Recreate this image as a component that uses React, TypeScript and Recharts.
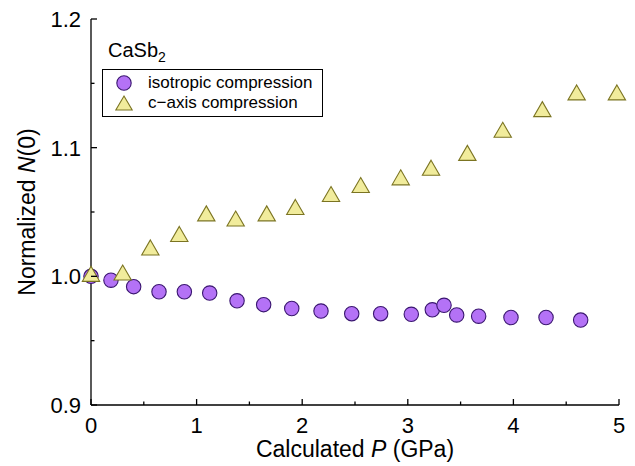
import React from 'react';
import { ScatterChart, Scatter, XAxis, YAxis, Legend } from 'recharts';

// pressure (GPa) and normalized DOS at the Fermi level
const isoP = [0, 0.189, 0.404, 0.644, 0.884, 1.124, 1.383, 1.635, 1.901, 2.178, 2.469, 2.743, 3.033, 3.232, 3.343, 3.463, 3.671, 3.977, 4.309, 4.637];
const isoN = [1.0, 0.997, 0.992, 0.988, 0.988, 0.987, 0.981, 0.978, 0.975, 0.973, 0.971, 0.971, 0.9705, 0.974, 0.9775, 0.97, 0.969, 0.968, 0.968, 0.966];

const cAxisP = [0, 0.3, 0.562, 0.836, 1.092, 1.37, 1.664, 1.935, 2.273, 2.554, 2.933, 3.22, 3.564, 3.899, 4.274, 4.599, 4.98];
const cAxisN = [1.0, 1.001, 1.0205, 1.031, 1.047, 1.043, 1.047, 1.052, 1.062, 1.069, 1.075, 1.0825, 1.094, 1.112, 1.128, 1.141, 1.141];

const seriesNames = ['isotropic compression', 'c\u2212axis compression'];

const xTicks = [0, 0.5, 1, 1.5, 2, 2.5, 3, 3.5, 4, 4.5, 5];
const yTicks = [0.9, 0.95, 1.0, 1.05, 1.1, 1.15, 1.2];

const isoData = isoP.map((p, i) => ({ p, n: isoN[i] }));
const cAxisData = cAxisP.map((p, i) => ({ p, n: cAxisN[i] }));

const FONT = '"Liberation Sans", Arial, sans-serif';
const AXIS = { stroke: '#000', strokeWidth: 1.3 };
const MAJOR = 6;
const MINOR = 3.5;
const TICK_FONT = 22;
const TITLE_FONT = 23;

const isMajorX = (v: number) => Number.isInteger(v);
const isMajorY = (v: number) => Math.abs(v * 10 - Math.round(v * 10)) < 1e-6;

function BottomTick({ x, y, payload }: any) {
  const major = isMajorX(payload.value);
  return (
    <g>
      <line x1={x} x2={x} y1={y} y2={y - (major ? MAJOR : MINOR)} {...AXIS} />
      {major && (
        <text x={x} y={y + 28} textAnchor="middle" fontSize={TICK_FONT} fontFamily={FONT} fill="#000">
          {payload.value}
        </text>
      )}
    </g>
  );
}

function TopTick({ x, y, payload }: any) {
  const major = isMajorX(payload.value);
  return <line x1={x} x2={x} y1={y} y2={y + (major ? MAJOR : MINOR)} {...AXIS} />;
}

function LeftTick({ x, y, payload }: any) {
  const major = isMajorY(payload.value);
  return (
    <g>
      <line x1={x} x2={x + (major ? MAJOR : MINOR)} y1={y} y2={y} {...AXIS} />
      {major && (
        <text x={x - 10} y={y + 8} textAnchor="end" fontSize={TICK_FONT} fontFamily={FONT} fill="#000">
          {payload.value.toFixed(1)}
        </text>
      )}
    </g>
  );
}

function RightTick({ x, y, payload }: any) {
  const major = isMajorY(payload.value);
  return <line x1={x} x2={x - (major ? MAJOR : MINOR)} y1={y} y2={y} {...AXIS} />;
}

const CIRCLE_FILL = '#b472f6';
const CIRCLE_STROKE = '#3a1670';
const TRI_FILL = '#f1ec9c';
const TRI_STROKE = '#7b7422';

function CircleMark({ cx, cy }: any) {
  return <circle cx={cx} cy={cy} r={7.2} fill={CIRCLE_FILL} stroke={CIRCLE_STROKE} strokeWidth={1.1} />;
}

// triangle centred on its centroid
function TriangleMark({ cx, cy }: any) {
  const h = 5;
  const w = 8.66;
  return (
    <path
      d={`M${cx},${cy - 2 * h}L${cx + w},${cy + h}L${cx - w},${cy + h}Z`}
      fill={TRI_FILL}
      stroke={TRI_STROKE}
      strokeWidth={1.1}
    />
  );
}

function LegendIcon({ type }: { type: string }) {
  return (
    <svg width={18} height={18} style={{ display: 'block' }}>
      {type === 'triangle' ? (
        <path d="M9,2L17.2,16L0.8,16Z" fill={TRI_FILL} stroke={TRI_STROKE} strokeWidth={1.1} />
      ) : (
        <circle cx={9} cy={9} r={7.2} fill={CIRCLE_FILL} stroke={CIRCLE_STROKE} strokeWidth={1.1} />
      )}
    </svg>
  );
}

function LegendBox({ payload }: any) {
  const items = [...(payload || [])].sort(
    (a: any, b: any) => seriesNames.indexOf(a.value) - seriesNames.indexOf(b.value)
  );
  return (
    <div style={{ fontFamily: FONT, color: '#000' }}>
      <div style={{ fontSize: 20, lineHeight: '24px', marginLeft: 6, marginBottom: 5 }}>
        CaSb<span style={{ fontSize: 14, position: 'relative', top: 5 }}>2</span>
      </div>
      <div style={{ border: '1px solid #000', background: '#fff', padding: '3px 10px 3px 12px' }}>
        {items.map((entry: any) => (
          <div key={entry.value} style={{ display: 'flex', alignItems: 'center', height: 20 }}>
            <LegendIcon type={entry.type} />
            <span style={{ marginLeft: 15, fontSize: 17, lineHeight: '20px', whiteSpace: 'nowrap' }}>
              {entry.value}
            </span>
          </div>
        ))}
      </div>
    </div>
  );
}

function XTitle({ viewBox }: any) {
  return (
    <text x={viewBox.x + viewBox.width / 2} y={viewBox.y + 52} textAnchor="middle" fontSize={TITLE_FONT} fontFamily={FONT} fill="#000">
      Calculated <tspan fontStyle="italic">P</tspan> (GPa)
    </text>
  );
}

function YTitle({ viewBox }: any) {
  const x = viewBox.x + 4;
  const y = viewBox.y + viewBox.height / 2;
  return (
    <text x={x} y={y} transform={`rotate(-90, ${x}, ${y})`} textAnchor="middle" fontSize={TITLE_FONT} fontFamily={FONT} fill="#000">
      Normalized <tspan fontStyle="italic">N</tspan>(0)
    </text>
  );
}

export default function App() {
  return (
    <div style={{ position: 'absolute', left: 0, top: 0, width: 635, height: 466, background: '#fff' }}>
      <ScatterChart width={635} height={466} margin={{ top: 19, right: 16, bottom: 21, left: 31 }}>
        <XAxis
          dataKey="p"
          type="number"
          domain={[0, 5]}
          ticks={xTicks}
          height={40}
          tickSize={0}
          tickMargin={0}
          tick={BottomTick}
          axisLine={AXIS}
          label={XTitle}
        />
        <XAxis
          xAxisId="top"
          orientation="top"
          type="number"
          domain={[0, 5]}
          ticks={xTicks}
          height={0}
          tickSize={0}
          tickMargin={0}
          tick={TopTick}
          axisLine={AXIS}
          allowDataOverflow
        />
        <YAxis
          dataKey="n"
          type="number"
          domain={[0.9, 1.2]}
          ticks={yTicks}
          width={60}
          tickSize={0}
          tickMargin={0}
          tick={LeftTick}
          axisLine={AXIS}
          label={YTitle}
        />
        <YAxis
          yAxisId="right"
          orientation="right"
          type="number"
          domain={[0.9, 1.2]}
          ticks={yTicks}
          width={0}
          tickSize={0}
          tickMargin={0}
          tick={RightTick}
          axisLine={AXIS}
          allowDataOverflow
        />
        <Legend
          layout="vertical"
          align="center"
          verticalAlign="middle"
          content={LegendBox}
          wrapperStyle={{ left: 102, top: 38, width: 'auto', height: 'auto' }}
        />
        <Scatter
          name={seriesNames[0]}
          data={isoData}
          legendType="circle"
          fill={CIRCLE_FILL}
          shape={CircleMark}
          isAnimationActive={false}
        />
        <Scatter
          name={seriesNames[1]}
          data={cAxisData}
          legendType="triangle"
          fill={TRI_FILL}
          shape={TriangleMark}
          isAnimationActive={false}
        />
      </ScatterChart>
    </div>
  );
}
